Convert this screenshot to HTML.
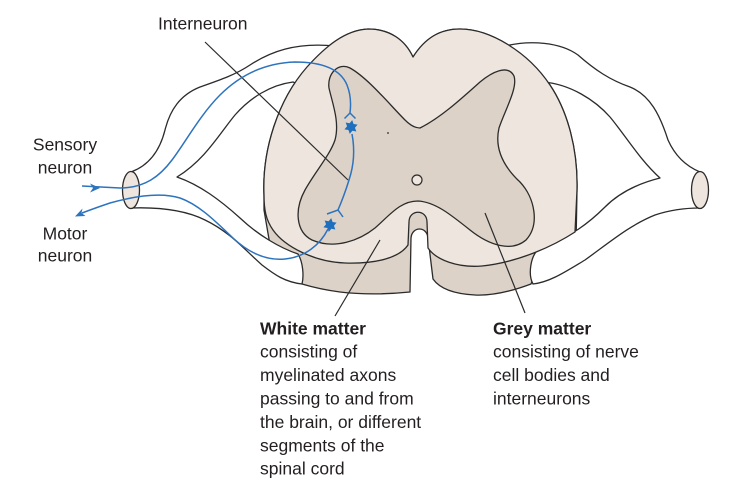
<!DOCTYPE html>
<html>
<head>
<meta charset="utf-8">
<style>
  html, body { margin: 0; padding: 0; background: #ffffff; }
  body { width: 738px; height: 492px; overflow: hidden; }
  svg { display: block; }
  text { font-family: "Liberation Sans", Arial, sans-serif; font-size: 17.5px; fill: #231f20; }
  .b { font-weight: bold; }
</style>
</head>
<body>
<svg width="738" height="492" viewBox="0 0 738 492" xmlns="http://www.w3.org/2000/svg">
  <!-- cord body (dark band + everything) -->
  <path d="M413,57 C425,38 440,29 460,29 C490,29 528,52 550,85 C568,112 578,150 577,190 L576,245 L540,262 L531,284 C515,290 495,296 475,295 C455,294 440,289 433,279 L428,238 C427,226 412,226 411,238 L410,292 C390,294 365,295 340,292 C325,290 312,287 302,284 L270,245 L264,210 L264,195 C262,150 278,100 307,67 C325,47 345,30 368,29 C390,29 405,40 413,57 Z"
        fill="#dcd2c8" stroke="#2b2b2b" stroke-width="1.3" stroke-linejoin="round"/>

  <!-- left nerve roots -->
  <path d="M131,172 C150,165 160,150 165,130 C170,110 180,95 200,87 C220,80 235,75 250,65 C270,52 295,42 335,46 L300,85 L293,82 C270,85 250,98 235,115 C220,133 205,160 177,177 C200,185 220,200 240,218 C258,235 280,248 298,254 C303,262 304,276 302,284 C285,282 275,275 262,265 C245,250 230,232 205,220 C185,210 160,207 131,208 Z"
        fill="#ffffff" stroke="#2b2b2b" stroke-width="1.3" stroke-linejoin="round"/>
  <!-- right nerve roots -->
  <path d="M700,172 C688,167 676,158 668,140 C660,115 650,95 630,87 C610,80 595,70 578,55 C560,42 530,40 505,46 L540,85 L543,82 C570,84 595,100 610,117 C625,135 640,160 660,178 C640,183 620,192 605,207 C590,222 570,238 540,248 C530,255 528,275 533,284 C550,282 565,272 585,260 C610,242 630,225 655,215 C670,210 685,208 700,208 Z"
        fill="#ffffff" stroke="#2b2b2b" stroke-width="1.3" stroke-linejoin="round"/>

  <!-- cylinders (cut ends) -->
  <ellipse cx="131" cy="190" rx="8.5" ry="18.5" fill="#eee6de" stroke="#2b2b2b" stroke-width="1.3"/>
  <ellipse cx="700" cy="190" rx="8.5" ry="18.5" fill="#eee6de" stroke="#2b2b2b" stroke-width="1.3"/>

  <!-- front face (white matter) -->
  <path d="M413,57 C425,38 440,29 460,29 C490,29 528,52 550,85 C568,112 578,150 577,190 L575,232 C555,245 520,262 482,266 C458,268 436,260 428,248 L427,222 C427,209 409,209 409,222 L408,245 C400,257 378,264 345,263 C315,262 285,247 273,230 C266,220 264,210 264,195 C262,150 278,100 307,67 C325,47 345,30 368,29 C390,29 405,40 413,57 Z"
        fill="#eee6de" stroke="#2b2b2b" stroke-width="1.3" stroke-linejoin="round"/>

  <!-- grey matter -->
  <path d="M420,128 C440,118 460,100 480,82 C492,72 508,64 514,76 C518,88 505,110 499,128 C494,150 505,168 520,182 C535,198 540,225 526,240 C512,252 490,246 470,230 C450,214 435,202 418,201 C400,201 390,215 375,228 C360,240 335,250 312,240 C296,232 294,210 305,190 C315,172 330,155 335,140 C340,122 332,102 329,88 C327,74 338,62 350,68 C368,78 390,105 405,120 C410,125 415,128 420,128 Z"
        fill="#dcd2c8" stroke="#2b2b2b" stroke-width="1.3" stroke-linejoin="round"/>

  <!-- central canal and dot -->
  <circle cx="417" cy="180" r="5" fill="#eee6de" stroke="#2b2b2b" stroke-width="1.2"/>
  <circle cx="388" cy="133" r="0.9" fill="#2b2b2b"/>

  <!-- pointer lines -->
  <line x1="205" y1="42" x2="348" y2="180" stroke="#2b2b2b" stroke-width="1.2"/>
  <line x1="380" y1="240" x2="335" y2="316" stroke="#2b2b2b" stroke-width="1.2"/>
  <line x1="485" y1="213" x2="525" y2="313" stroke="#2b2b2b" stroke-width="1.2"/>

  <!-- sensory neuron -->
  <path d="M82,186 L120,188 C145,188 160,176 172,160 C185,143 200,115 220,95 C240,75 265,63 295,62 C320,62 340,68 347,85 C351,95 351,105 350,113"
        fill="none" stroke="#2d73be" stroke-width="1.5"/>
  <path d="M100,188 L90,183.5 L93,188 L90,192.5 Z" fill="#2d73be"/>
  <polyline points="344.5,118.5 350,113 355.5,118.5" fill="none" stroke="#2d73be" stroke-width="1.5"/>
  <polygon transform="translate(351,127) rotate(10)" points="0,-7 2,-3.46 6.06,-3.5 4,0 6.06,3.5 2,3.46 0,7 -2,3.46 -6.06,3.5 -4,0 -6.06,-3.5 -2,-3.46" fill="#1f6fbf"/>

  <!-- interneuron -->
  <path d="M352,134 C355,150 354,165 349,180 C345,193 341,203 338,210" fill="none" stroke="#2d73be" stroke-width="1.5"/>
  <polyline points="327,214 338,210 343,217" fill="none" stroke="#2d73be" stroke-width="1.5"/>
  <polygon transform="translate(330,225) rotate(10)" points="0,-7 2,-3.46 6.06,-3.5 4,0 6.06,3.5 2,3.46 0,7 -2,3.46 -6.06,3.5 -4,0 -6.06,-3.5 -2,-3.46" fill="#1f6fbf"/>

  <!-- motor neuron -->
  <path d="M328,229 C320,245 305,257 285,259 C265,261 248,252 233,238 C218,224 200,205 180,198 C160,192 135,196 110,203 C98,207 90,210 82,213"
        fill="none" stroke="#2d73be" stroke-width="1.5"/>
  <path d="M75,216.5 L82.5,208.5 L81.5,213 L85.5,216 Z" fill="#2d73be"/>

  <!-- labels -->
  <text x="158" y="29.3">Interneuron</text>
  <text x="65" y="150.7" text-anchor="middle">Sensory</text>
  <text x="65" y="173.3" text-anchor="middle">neuron</text>
  <text x="65" y="239.3" text-anchor="middle">Motor</text>
  <text x="65" y="261.7" text-anchor="middle">neuron</text>

  <text x="260" y="334.3" class="b">White matter</text>
  <text x="260" y="357.7">consisting of</text>
  <text x="260" y="381.1">myelinated axons</text>
  <text x="260" y="404.5">passing to and from</text>
  <text x="260" y="427.9">the brain, or different</text>
  <text x="260" y="451.3">segments of the</text>
  <text x="260" y="474.7">spinal cord</text>

  <text x="493" y="334.3" class="b">Grey matter</text>
  <text x="493" y="357.7">consisting of nerve</text>
  <text x="493" y="381.1">cell bodies and</text>
  <text x="493" y="404.5">interneurons</text>
</svg>
</body>
</html>
